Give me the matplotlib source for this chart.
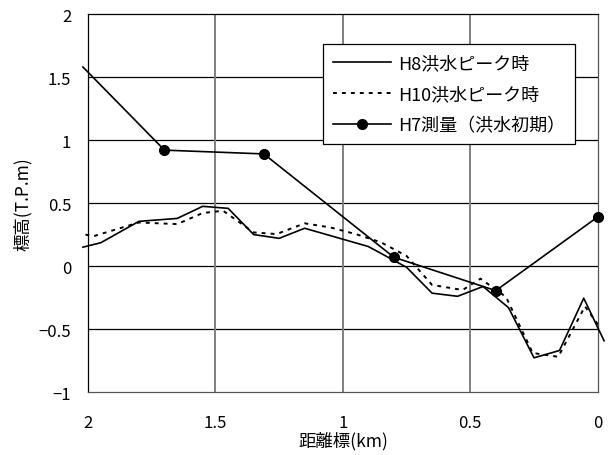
import numpy as np
import matplotlib.pyplot as plt

plt.rcParams['font.family'] = ['Noto Sans CJK JP', 'DejaVu Sans']

# H8 flood peak water level
h8_km = [2.02, 1.95, 1.80, 1.65, 1.55, 1.45, 1.35, 1.25, 1.15, 0.90,
         0.75, 0.65, 0.55, 0.45, 0.35, 0.25, 0.15, 0.055, -0.025]
h8_lv = [0.15, 0.185, 0.355, 0.378, 0.474, 0.458, 0.25, 0.22, 0.30, 0.155,
         -0.01, -0.215, -0.24, -0.162, -0.33, -0.728, -0.67, -0.255, -0.593]

# H10 flood peak water level
h10_km = [2.01, 1.98, 1.80, 1.65, 1.55, 1.47, 1.35, 1.26, 1.15, 1.05, 0.95,
          0.85, 0.75, 0.65, 0.53, 0.46, 0.36, 0.255, 0.155, 0.05, -0.01]
h10_lv = [0.25, 0.236, 0.346, 0.333, 0.421, 0.439, 0.267, 0.254, 0.339, 0.307, 0.254,
          0.188, 0.08, -0.15, -0.19, -0.10, -0.245, -0.69, -0.72, -0.32, -0.49]

# H7 survey (early flood)
h7_km = [2.02, 1.70, 1.31, 0.80, 0.40, 0.0]
h7_lv = [1.58, 0.92, 0.89, 0.07, -0.195, 0.39]

fig = plt.figure(figsize=(6.09, 4.56), dpi=100)
ax = fig.add_axes([0.1445, 0.138, 0.837, 0.829])

ax.set_xlim(2, 0)
ax.set_ylim(-1, 2)
ax.set_xticks([2, 1.5, 1, 0.5, 0])
ax.set_xticklabels(['2', '1.5', '1', '0.5', '0'])
ax.set_yticks([-1, -0.5, 0, 0.5, 1, 1.5, 2])
ax.set_yticklabels(['\u22121', '\u22120.5', '0', '0.5', '1', '1.5', '2'])

for y in [-0.5, 0, 0.5, 1, 1.5]:
    ax.axhline(y, color='black', lw=0.9, zorder=1)
for x in [1.5, 1, 0.5]:
    ax.axvline(x, color='#808080', lw=1.4, zorder=1)

for s in ['left', 'top']:
    ax.spines[s].set_color('black')
for s in ['right', 'bottom']:
    ax.spines[s].set_color('#555555')
for s in ax.spines.values():
    s.set_linewidth(0.9)

ax.plot(h8_km, h8_lv, '-', color='black', lw=1.2, clip_on=False, zorder=3,
        label='H8洪水ピーク時')
ax.plot(h10_km, h10_lv, color='black', lw=1.4, dashes=(2, 2.6), clip_on=False,
        zorder=3, label='H10洪水ピーク時')
ax.plot(h7_km, h7_lv, '-', color='black', lw=1.2, clip_on=False, zorder=4,
        label='H7測量（洪水初期）')
ax.plot(h7_km[1:], h7_lv[1:], 'o', color='black', markersize=7, clip_on=False, zorder=5)
h7_line = plt.Line2D([], [], color='black', lw=1.2, marker='o', markersize=7)

handles, labels = ax.get_legend_handles_labels()
handles[2] = h7_line
leg = ax.legend(handles, labels, loc='upper left', bbox_to_anchor=(0.461, 0.921),
                borderaxespad=0, fontsize=13, handlelength=3.2, handletextpad=0.4,
                labelspacing=0.72, fancybox=False, framealpha=1, edgecolor='black',
                borderpad=0.55)
leg.get_frame().set_linewidth(0.9)
leg.set_zorder(6)

ax.tick_params(length=0, labelsize=12)
ax.tick_params(axis='x', pad=16)
ax.tick_params(axis='y', pad=12)
ax.set_xlabel('距離標(km)', fontsize=12.5, labelpad=0)
ax.set_ylabel('標高(T.P.m)', fontsize=12.5, labelpad=5)

fig.savefig('out.png', dpi=100)
